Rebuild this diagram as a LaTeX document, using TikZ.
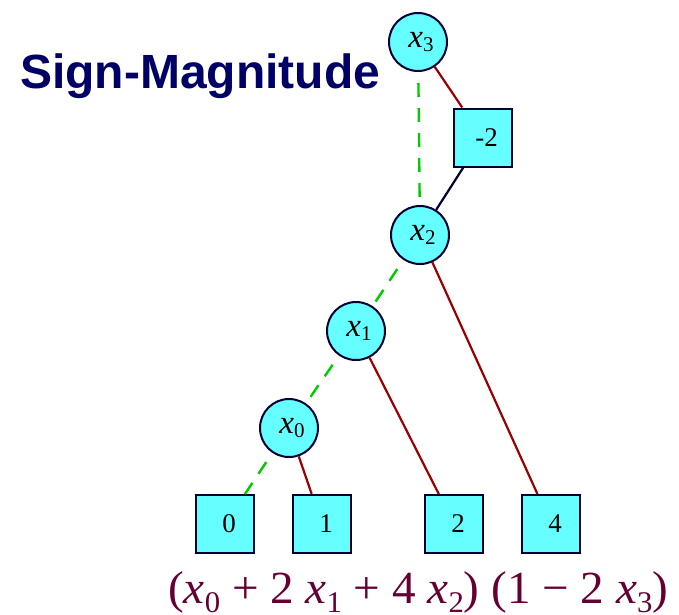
\documentclass[tikz,border=0pt]{standalone}
\usepackage{fontspec}
\usepackage{graphicx}
\setmainfont{Liberation Serif}
\newfontfamily\titlefont{Liberation Sans}
\definecolor{cyanfill}{RGB}{102,255,255}
\definecolor{navyline}{RGB}{0,0,51}
\definecolor{redline}{RGB}{153,0,0}
\definecolor{greenline}{RGB}{0,204,0}
\definecolor{titleblue}{RGB}{0,0,102}
\definecolor{formulacol}{RGB}{102,0,51}
\newcommand{\varlab}[1]{\fontsize{33}{33}\selectfont\itshape x\upshape\raisebox{-3.5pt}{\fontsize{21}{21}\selectfont #1}}
\newcommand{\fx}[1]{\textit{x}\raisebox{-9pt}{\fontsize{30}{30}\selectfont #1}}
\begin{document}
\begin{tikzpicture}[x=1pt,y=-1pt,
  varnode/.style={circle,draw=navyline,fill=cyanfill,line width=2pt,minimum size=58pt,inner sep=0pt},
  termbox/.style={rectangle,draw=navyline,fill=cyanfill,line width=2pt,minimum size=58pt,inner sep=0pt},
  boxlab/.style={xshift=4pt,inner sep=0pt,font=\fontsize{27}{27}\selectfont},
  varlabstyle/.style={xshift=3pt,inner sep=0pt},
  hiedge/.style={draw=redline,line width=2.2pt},
  loedge/.style={draw=greenline,line width=2.4pt,dash pattern=on 14pt off 11pt,dash phase=-11pt},
  negedge/.style={draw=navyline,line width=2.2pt}]
\useasboundingbox (0,0) rectangle (679,614);
\fill[white] (0,0) rectangle (679,614);
\node[varnode] (x3) at (418,42) {};
\node[termbox] (m2) at (482.5,137.5) {};
\node[varnode] (x2) at (420,235) {};
\node[varnode] (x1) at (356,331) {};
\node[varnode] (x0) at (289,428) {};
\node[termbox] (b0) at (225,524) {};
\node[termbox] (b1) at (322,524) {};
\node[termbox] (b2) at (454,524) {};
\node[termbox] (b4) at (551,524) {};
\draw[hiedge] (x3) -- (m2);
\draw[loedge] (x3) -- (x2);
\draw[negedge] (x2) -- (m2);
\draw[loedge] (x2) -- (x1);
\draw[hiedge] (x2) -- (b4);
\draw[loedge] (x1) -- (x0);
\draw[hiedge] (x1) -- (b2);
\draw[loedge] (x0) -- (b0);
\draw[hiedge] (x0) -- (b1);
% labels
\node[varlabstyle] (lx3) at (x3) {\varlab{3}};
\node[varlabstyle] (lx2) at (x2) {\varlab{2}};
\node[varlabstyle] (lx1) at (x1) {\varlab{1}};
\node[varlabstyle] (lx0) at (x0) {\varlab{0}};
\node[boxlab] (lm2) at (m2) {-2};
\node[boxlab] (lb0) at (b0) {0};
\node[boxlab] (lb1) at (b1) {1};
\node[boxlab] (lb2) at (b2) {2};
\node[boxlab] (lb4) at (b4) {4};
% title
\node[anchor=base west,inner sep=0pt,text=titleblue,font=\titlefont\bfseries\fontsize{48}{48}\selectfont] (title) at (20,88) {Sign-Magnitude};
% formula
\node[anchor=base west,inner sep=0pt,text=formulacol,font=\fontsize{46}{46}\selectfont] (formula) at (168,603)
  {\resizebox{500pt}{\height}{(\fx{0} + 2 \fx{1} + 4 \fx{2}) (1 − 2 \fx{3})}};
\end{tikzpicture}
\end{document}
